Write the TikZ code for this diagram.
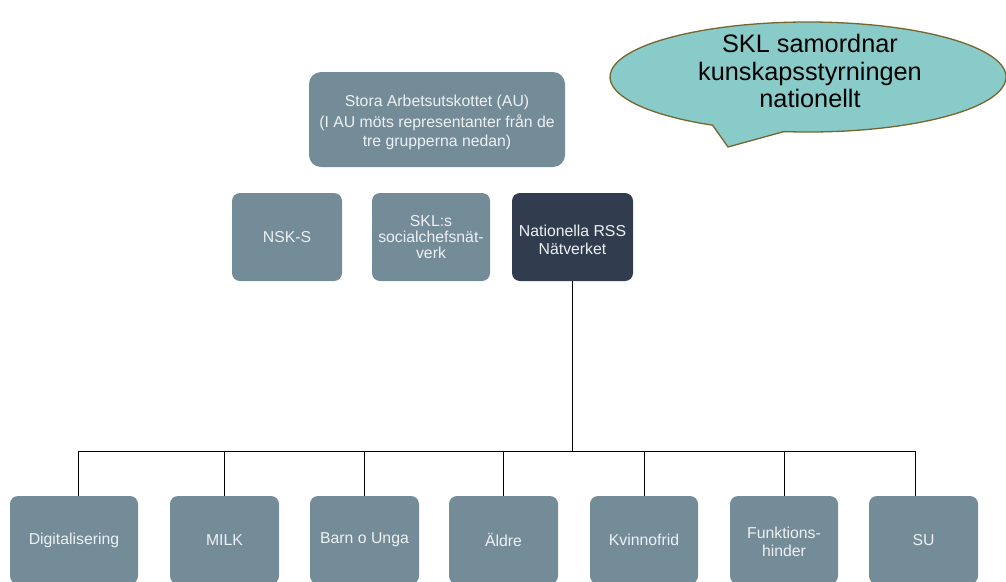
\documentclass[tikz,border=0pt]{standalone}
\usepackage{fontspec}
\setmainfont{Liberation Sans}
\definecolor{boxgray}{HTML}{748B98}
\definecolor{boxdark}{HTML}{313C4E}
\definecolor{boxtext}{HTML}{EEF1F3}
\definecolor{bubblefill}{HTML}{89CBC8}
\definecolor{bubbleline}{HTML}{75652F}
\tikzset{
  orgbox/.style={rectangle, rounded corners=8pt, fill=boxgray, text=boxtext, align=center,
    inner sep=2pt, font=\fontsize{15.8pt}{17.5pt}\selectfont},
  darkbox/.style={orgbox, fill=boxdark},
  conn/.style={draw=black, line width=0.9pt},
  bubble/.style={fill=bubblefill, draw=bubbleline, line width=1.3pt},
}
\begin{document}
\begin{tikzpicture}[x=1pt,y=1pt]
\useasboundingbox (0,0) rectangle (1006,-581);
\clip (0,0) rectangle (1006,-581);
% top box
\node[orgbox, rounded corners=12pt, minimum width=256pt, minimum height=95pt] (au) at (437,-119.5) {};
\node[text=boxtext, align=center, font=\fontsize{15.8pt}{18.5pt}\selectfont, inner sep=0pt] (autext) at (437,-122)
  {Stora Arbetsutskottet (AU)\\[3pt](I AU möts representanter från de\\tre grupperna nedan)};
% middle row
\node[orgbox, minimum width=110pt, minimum height=88pt] (nsk) at (287,-237) {NSK-S};
\node[orgbox, minimum width=118pt, minimum height=88pt, font=\fontsize{15.8pt}{15.8pt}\selectfont] (skl) at (431,-237) {SKL:s\\socialchefsnät-\\verk};
\node[darkbox, minimum width=121pt, minimum height=88pt] (nat) at (572.5,-237) {};
\node[text=boxtext, align=center, font=\fontsize{15.8pt}{17.5pt}\selectfont, inner sep=0pt] (nattext) at (572.5,-240) {Nationella RSS\\Nätverket};
% bottom row
\node[orgbox, minimum width=128pt, minimum height=88pt] (dig) at (74,-540) {Digitalisering};
\node[orgbox, minimum width=109pt, minimum height=88pt] (milk) at (224.5,-540) {MILK};
\node[orgbox, minimum width=109pt, minimum height=88pt] (barn) at (364.5,-540) {Barn o Unga};
\node[orgbox, minimum width=109pt, minimum height=88pt] (aldre) at (503.5,-540) {Äldre};
\node[orgbox, minimum width=108pt, minimum height=88pt] (kvinno) at (644,-540) {Kvinnofrid};
\node[orgbox, minimum width=108pt, minimum height=88pt] (funk) at (784,-540) {};
\node[text=boxtext, align=center, font=\fontsize{15.8pt}{17.5pt}\selectfont, inner sep=0pt] (funktext) at (784,-542) {Funktions-\\hinder};
\node[orgbox, minimum width=109pt, minimum height=88pt] (su) at (923.5,-540) {SU};
% connectors
\coordinate (bus) at (572.5,-451);
\coordinate (digtop) at ([xshift=4pt]dig.north);
\coordinate (sutop) at ([xshift=-8pt]su.north);
\draw[conn] (nat.south) -- (bus);
\draw[conn] (digtop |- bus) -- (sutop |- bus);
\draw[conn] (digtop |- bus) -- (digtop);
\draw[conn] (milk.north |- bus) -- (milk.north);
\draw[conn] (barn.north |- bus) -- (barn.north);
\draw[conn] (aldre.north |- bus) -- (aldre.north);
\draw[conn] (kvinno.north |- bus) -- (kvinno.north);
\draw[conn] (funk.north |- bus) -- (funk.north);
\draw[conn] (sutop |- bus) -- (sutop);
% speech bubble
\coordinate (bc) at (808,-77);
\coordinate (tip) at (728,-147);
\path (bc) ++(241.2:198pt and 55pt) coordinate (tl);
\path (bc) ++(263:198pt and 55pt) coordinate (tr);
\draw[bubble] (tl) -- (tip) -- (tr) arc[start angle=263, end angle=601.2, x radius=198pt, y radius=55pt] -- cycle;
\node[align=center, font=\fontsize{25.3pt}{27.5pt}\selectfont, text=black, inner sep=0pt] (bubtext) at (810,-71)
  {SKL samordnar\\kunskapsstyrningen\\nationellt};
\end{tikzpicture}
\end{document}
